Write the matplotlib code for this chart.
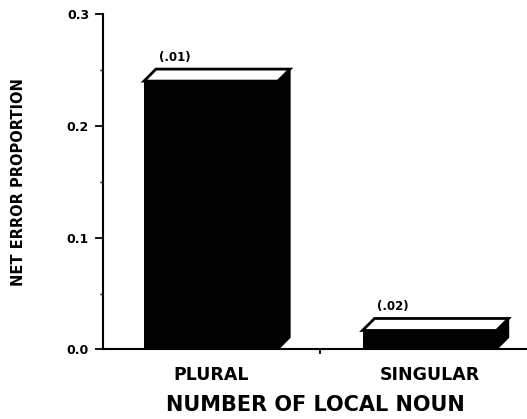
import numpy as np
from matplotlib import pyplot as plt
from matplotlib.patches import Polygon

categories = ['PLURAL', 'SINGULAR']
net_error = [0.240, 0.017]
bar_notes = ['(.01)', '(.02)']

plt.rcParams['font.family'] = 'DejaVu Sans'
plt.rcParams['font.weight'] = 'bold'

fig = plt.figure(figsize=(5.27, 4.19), dpi=100)
ax = fig.add_axes([0.1954, 0.1659, 0.8046, 0.8007])

x = np.arange(len(categories))
width = 0.613
ax.set_xlim(-0.494, 1.446)
ax.set_ylim(0, 0.3)

# depth of the fake 3d bars, 12 px each way, converted to data units
px_x = (1.446 + 0.494) / (0.8046 * 527)
px_y = 0.3 / (0.8007 * 419)
dx = 12 * px_x
dy = 12 * px_y

ax.bar(x, net_error, width=width, color='black', zorder=2)
for xi, h, note in zip(x, net_error, bar_notes):
    l = xi - width / 2
    r = xi + width / 2
    side = Polygon([(r, 0), (r + dx, dy), (r + dx, h + dy), (r, h)],
                   closed=True, facecolor='black', edgecolor='black', lw=1, zorder=2)
    top = Polygon([(l, h), (l + dx, h + dy), (r + dx, h + dy), (r, h)],
                  closed=True, facecolor='white', edgecolor='black', lw=2, zorder=3,
                  joinstyle='miter')
    ax.add_patch(side)
    ax.add_patch(top)
    ax.annotate(note, (l + dx, h + dy), xytext=(2, 4), textcoords='offset points',
                ha='left', va='bottom', fontsize=8.5, fontweight='bold')

# axes look
for s in ['top', 'right']:
    ax.spines[s].set_visible(False)
ax.spines['left'].set_linewidth(1.5)
ax.spines['bottom'].set_linewidth(1.5)

ax.set_yticks([0.0, 0.1, 0.2, 0.3])
ax.set_yticklabels(['0.0', '0.1', '0.2', '0.3'])
ax.set_yticks([0.05, 0.15, 0.25], minor=True)
ax.tick_params(axis='y', which='major', length=6, width=1.3, pad=4, labelsize=9)
ax.tick_params(axis='y', which='minor', length=2.5, width=1)

ax.set_xticks(x)
ax.set_xticklabels(categories)
ax.set_xticks([0.5], minor=True)
ax.tick_params(axis='x', which='major', length=0, pad=12, labelsize=12.5)
ax.tick_params(axis='x', which='minor', length=3.5, width=1.3)

ax.set_xlabel('NUMBER OF LOCAL NOUN', fontsize=15, fontweight='bold', labelpad=8)
ax.set_ylabel('NET ERROR PROPORTION', fontsize=10.5, fontweight='bold')
ax.yaxis.set_label_coords(-0.181, 0.5)

plt.savefig('out.png', dpi=100)
